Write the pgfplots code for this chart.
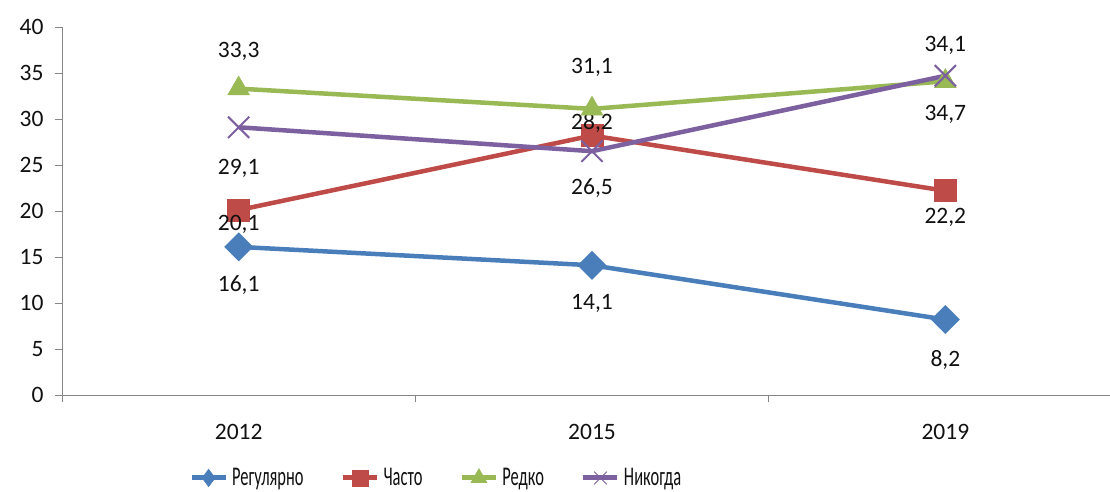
\documentclass[border=0pt]{standalone}
\usepackage{fontspec}
\setmainfont{Carlito}
\usepackage{graphicx}
\usepackage{pgfplots}
\usepackage{pgfplotstable}
\pgfplotsset{compat=1.18}

\definecolor{cblue}{HTML}{4A7EBB}
\definecolor{cred}{HTML}{BE4B48}
\definecolor{cgreen}{HTML}{98B954}
\definecolor{cpurple}{HTML}{7D60A0}
\definecolor{axgray}{HTML}{868686}
\definecolor{txt}{HTML}{111111}

% x = category slot, y = value, lab = data label, dy = label offset (pt)
\pgfplotstableread{
x   y    lab   dy
0.5 16.1 16,1  -38
1.5 14.1 14,1  -38
2.5 8.2  8,2   -40
}\regul
\pgfplotstableread{
x   y    lab   dy
0.5 20.1 20,1  -14
1.5 28.2 28,2  13
2.5 22.2 22,2  -27
}\chasto
\pgfplotstableread{
x   y    lab   dy
0.5 33.3 33,3  37
1.5 31.1 31,1  41
2.5 34.1 34,1  36
}\redko
\pgfplotstableread{
x   y    lab   dy
0.5 29.1 29,1  -41
1.5 26.5 26,5  -37
2.5 34.7 34,7  -39
}\nikoga

% #1 colour, #2 legend mark size, #3 legend mark
\pgfplotsset{
  ser/.style n args={3}{
    line width=4.5pt, color=#1,
    mark options={solid, line width=0.6pt, fill=#1, draw=#1},
    point meta=explicit symbolic,
    nodes near coords,
    visualization depends on={\thisrow{dy}\as\dy},
    every node near coord/.style={anchor=center, yshift=\dy pt, text=txt,
      font=\fontsize{23.5}{27}\selectfont},
    legend image code/.code={
      \draw[line width=5pt, #1] (0pt,0pt) -- (34pt,0pt);
      \pgfsetstrokecolor{#1}\pgfsetfillcolor{#1}
      \pgfsetlinewidth{0.8pt}\pgfsetplotmarksize{#2}
      \pgftransformshift{\pgfqpoint{17pt}{0pt}}\pgfuseplotmark{#3}},
  },
}

\begin{document}
\begin{tikzpicture}
\useasboundingbox (-62pt,-97pt) rectangle (1048pt,395pt);
\begin{axis}[
  scale only axis,
  width=1060pt, height=368pt,
  xmin=0, xmax=3, ymin=0, ymax=40,
  clip=false,
  axis lines=left,
  axis line style={-, axgray, line width=0.9pt},
  tick style={axgray, line width=0.9pt},
  tick align=outside,
  major tick length=7pt,
  ytick={0,5,...,40},
  xtick={0,1,2,3},
  xticklabels={},
  extra x ticks={0.5,1.5,2.5},
  extra x tick labels={2012,2015,2019},
  extra x tick style={major tick length=0pt, xticklabel style={yshift=-26pt}},
  font=\fontsize{23.5}{27}\selectfont,
  tick label style={text=txt},
  yticklabel style={xshift=-8pt},
  /pgf/number format/assume math mode=true,
  legend columns=4,
  legend style={draw=none, at={(0.353,-0.2255)}, anchor=center,
    font=\fontsize{27}{30}\selectfont, text=txt,
    /tikz/every odd column/.append style={column sep=2pt},
    /tikz/every even column/.append style={column sep=35pt}},
]
\addplot[ser={cblue}{8.5pt}{diamond*}, mark=square*, mark size=8pt, mark options={rotate=45}]
  table[x=x, y=y, meta=lab]{\regul};
\addlegendentry{\scalebox{0.61}[1]{Регулярно}}
\addplot[ser={cred}{8pt}{square*}, mark=square*, mark size=11pt]
  table[x=x, y=y, meta=lab]{\chasto};
\addlegendentry{\scalebox{0.61}[1]{Часто}}
\addplot[ser={cgreen}{9pt}{triangle*}, mark=triangle*, mark size=12.5pt]
  table[x=x, y=y, meta=lab]{\redko};
\addlegendentry{\scalebox{0.61}[1]{Редко}}
\addplot[ser={cpurple}{9pt}{x}, mark=x, mark size=15pt, mark options={line width=2pt}]
  table[x=x, y=y, meta=lab]{\nikoga};
\addlegendentry{\scalebox{0.61}[1]{Никогда}}
\end{axis}
\end{tikzpicture}
\end{document}
